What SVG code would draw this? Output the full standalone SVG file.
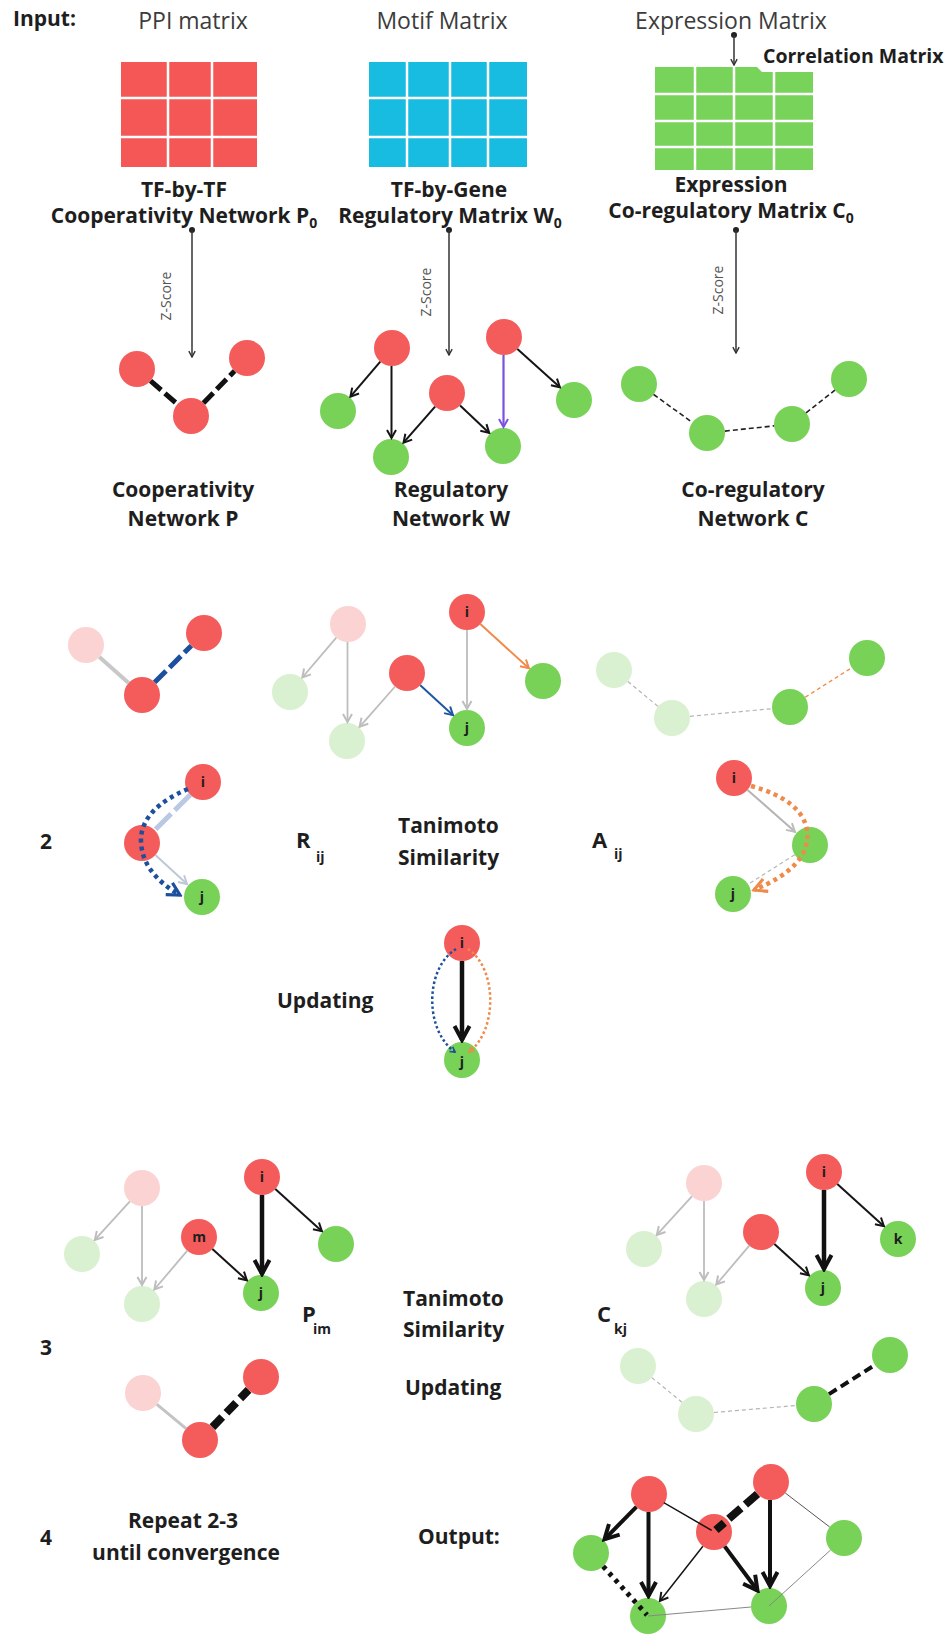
<svg xmlns="http://www.w3.org/2000/svg" width="950" height="1638" viewBox="0 0 950 1638">
<style>
text{font-family:"Open Sans","Liberation Sans",sans-serif;fill:#1e1e1e}
.h{font-size:23px;fill:#3c3c3c}
.b{font-size:21px;font-weight:700}
.bs{font-size:19.5px;font-weight:700}
.sub{font-size:14px;font-weight:700}
.z{font-size:14px;fill:#555}
.nl{font-size:14px;font-weight:700;text-anchor:middle}
.c{text-anchor:middle}
.red{fill:#f45b5b}
.grn{fill:#78d257}
.pk{fill:#fbd3d3}
.pg{fill:#d9f1d0}
.grid{stroke:#fff;stroke-width:2.5}
.k{fill:none;stroke:#151515;stroke-width:2}
.kt{fill:none;stroke:#111;stroke-width:4.5}
.zs{fill:none;stroke:#333;stroke-width:1.5}
.gy{fill:none;stroke:#bdbdbd;stroke-width:1.8}
.gyd{fill:none;stroke:#b5b5b5;stroke-width:1.2;stroke-dasharray:4 3}
.kd{fill:none;stroke:#222;stroke-width:1.6;stroke-dasharray:5 3}
</style>
<defs>
<marker id="ahK" viewBox="0 0 12 12" refX="10" refY="6" markerWidth="12" markerHeight="12" markerUnits="userSpaceOnUse" orient="auto"><path d="M2,1.5 L10,6 L2,10.5" fill="none" stroke="#151515" stroke-width="2"/></marker>
<marker id="ahG" viewBox="0 0 12 12" refX="10" refY="6" markerWidth="12" markerHeight="12" markerUnits="userSpaceOnUse" orient="auto"><path d="M2,1.5 L10,6 L2,10.5" fill="none" stroke="#bdbdbd" stroke-width="2"/></marker>
<marker id="ahL" viewBox="0 0 12 12" refX="10" refY="6" markerWidth="12" markerHeight="12" markerUnits="userSpaceOnUse" orient="auto"><path d="M2,1.5 L10,6 L2,10.5" fill="none" stroke="#bfc8d6" stroke-width="2"/></marker>
<marker id="ahB" viewBox="0 0 12 12" refX="10" refY="6" markerWidth="12" markerHeight="12" markerUnits="userSpaceOnUse" orient="auto"><path d="M2,1.5 L10,6 L2,10.5" fill="none" stroke="#1f55a5" stroke-width="2"/></marker>
<marker id="ahO" viewBox="0 0 12 12" refX="10" refY="6" markerWidth="12" markerHeight="12" markerUnits="userSpaceOnUse" orient="auto"><path d="M2,1.5 L10,6 L2,10.5" fill="none" stroke="#ef8a4a" stroke-width="2"/></marker>
<marker id="ahP" viewBox="0 0 12 12" refX="10" refY="6" markerWidth="12" markerHeight="12" markerUnits="userSpaceOnUse" orient="auto"><path d="M2,1.5 L10,6 L2,10.5" fill="none" stroke="#7b52e0" stroke-width="2"/></marker>
<marker id="ahZ" viewBox="0 0 10 10" refX="8.5" refY="5" markerWidth="9" markerHeight="9" markerUnits="userSpaceOnUse" orient="auto"><path d="M2,1.5 L8.5,5 L2,8.5" fill="none" stroke="#333" stroke-width="1.6"/></marker>
<marker id="ahKT" viewBox="0 0 20 20" refX="17" refY="10" markerWidth="20" markerHeight="20" markerUnits="userSpaceOnUse" orient="auto"><path d="M3,2.5 L17,10 L3,17.5" fill="none" stroke="#111" stroke-width="4"/></marker>
<marker id="ahBT" viewBox="0 0 20 20" refX="17" refY="10" markerWidth="18" markerHeight="18" markerUnits="userSpaceOnUse" orient="auto"><path d="M3,2.5 L17,10 L3,17.5" fill="none" stroke="#1d4f9c" stroke-width="3.5"/></marker>
<marker id="ahOT" viewBox="0 0 20 20" refX="17" refY="10" markerWidth="18" markerHeight="18" markerUnits="userSpaceOnUse" orient="auto"><path d="M3,2.5 L17,10 L3,17.5" fill="none" stroke="#ef8a4a" stroke-width="3.5"/></marker>
<marker id="ahBs" viewBox="0 0 10 10" refX="8" refY="5" markerWidth="8" markerHeight="8" markerUnits="userSpaceOnUse" orient="auto"><path d="M2,1.5 L8,5 L2,8.5" fill="none" stroke="#1d4f9c" stroke-width="2"/></marker>
<marker id="ahOs" viewBox="0 0 10 10" refX="8" refY="5" markerWidth="8" markerHeight="8" markerUnits="userSpaceOnUse" orient="auto"><path d="M2,1.5 L8,5 L2,8.5" fill="none" stroke="#ef8a4a" stroke-width="2"/></marker>
</defs>
<rect width="950" height="1638" fill="#fff"/>

<!-- headings -->
<g id="headings">
<text class="b" x="13" y="26">Input:</text>
<text class="h c" x="193" y="29">PPI matrix</text>
<text class="h c" x="442" y="29">Motif Matrix</text>
<text class="h c" x="731" y="29">Expression Matrix</text>
<text class="bs" x="763" y="63">Correlation Matrix</text>
</g>

<!-- input matrices -->
<g id="ppi-matrix">
<rect x="121" y="62" width="136" height="105" fill="#f55757"/>
<path class="grid" d="M168,62V167M212,62V167M121,98H257M121,137H257"/>
</g>
<g id="motif-matrix">
<rect x="369" y="62" width="158" height="105" fill="#18bce0"/>
<path class="grid" d="M407,62V167M450,62V167M488,62V167M369,98H527M369,137H527"/>
</g>
<g id="expression-matrix">
<path d="M655,67H757L762,72H813V170H655Z" fill="#78d35a"/>
<path class="grid" d="M695,67V170M734,67V170M774,70V170M655,94H813M655,121H813M655,147H813"/>
</g>

<g id="matrix-labels">
<text class="b c" x="184" y="197">TF-by-TF</text>
<text class="b c" x="184" y="223">Cooperativity Network P<tspan class="sub" dy="5">0</tspan></text>
<text class="b c" x="449" y="197">TF-by-Gene</text>
<text class="b c" x="450" y="223">Regulatory Matrix W<tspan class="sub" dy="5">0</tspan></text>
<text class="b c" x="731" y="192">Expression</text>
<text class="b c" x="731" y="218">Co-regulatory Matrix C<tspan class="sub" dy="5">0</tspan></text>
</g>

<g id="zscore-labels">
<text class="z c" transform="translate(171,296) rotate(-90)">Z-Score</text>
<text class="z c" transform="translate(431,292) rotate(-90)">Z-Score</text>
<text class="z c" transform="translate(723,290) rotate(-90)">Z-Score</text>
</g>

<!-- ===== step 1 networks ===== -->
<g id="p1-a"><circle class="red" cx="137" cy="369" r="18"/></g>
<g id="p1-b"><circle class="red" cx="191" cy="416" r="18"/></g>
<g id="p1-c"><circle class="red" cx="247" cy="358" r="18"/></g>

<g id="w1-tf1"><circle class="red" cx="392" cy="348" r="18"/></g>
<g id="w1-g1"><circle class="grn" cx="338" cy="411" r="18"/></g>
<g id="w1-g2"><circle class="grn" cx="391" cy="457" r="18"/></g>
<g id="w1-tf2"><circle class="red" cx="447" cy="393" r="18"/></g>
<g id="w1-tf3"><circle class="red" cx="504" cy="337" r="18"/></g>
<g id="w1-g3"><circle class="grn" cx="574" cy="400" r="18"/></g>
<g id="w1-g4"><circle class="grn" cx="503" cy="446" r="18"/></g>

<g id="c1-a"><circle class="grn" cx="639" cy="384" r="18"/></g>
<g id="c1-b"><circle class="grn" cx="707" cy="433" r="18"/></g>
<g id="c1-c"><circle class="grn" cx="792" cy="424" r="18"/></g>
<g id="c1-d"><circle class="grn" cx="849" cy="379" r="18"/></g>

<g id="network-labels">
<text class="b c" x="183" y="497">Cooperativity</text>
<text class="b c" x="183" y="526">Network P</text>
<text class="b c" x="451" y="497">Regulatory</text>
<text class="b c" x="451" y="526">Network W</text>
<text class="b c" x="753" y="497">Co-regulatory</text>
<text class="b c" x="753" y="526">Network C</text>
</g>

<!-- ===== step 2 ===== -->
<g id="p2-a"><circle class="pk" cx="86" cy="645" r="18"/></g>
<g id="p2-b"><circle class="red" cx="142" cy="695" r="18"/></g>
<g id="p2-c"><circle class="red" cx="204" cy="633" r="18"/></g>

<g id="w2-tf1"><circle class="pk" cx="348" cy="624" r="18"/></g>
<g id="w2-g1"><circle class="pg" cx="290" cy="692" r="18"/></g>
<g id="w2-g2"><circle class="pg" cx="347" cy="741" r="18"/></g>
<g id="w2-tf2"><circle class="red" cx="407" cy="673" r="18"/></g>
<g id="w2-i"><circle class="red" cx="467" cy="612" r="18"/><text class="nl" x="467" y="617">i</text></g>
<g id="w2-j"><circle class="grn" cx="467" cy="728" r="18"/><text class="nl" x="467" y="733">j</text></g>
<g id="w2-g3"><circle class="grn" cx="543" cy="681" r="18"/></g>

<g id="c2-a"><circle class="pg" cx="614" cy="670" r="18"/></g>
<g id="c2-b"><circle class="pg" cx="672" cy="718" r="18"/></g>
<g id="c2-c"><circle class="grn" cx="790" cy="707" r="18"/></g>
<g id="c2-d"><circle class="grn" cx="867" cy="658" r="18"/></g>

<g id="r-i"><circle class="red" cx="203" cy="782" r="18"/><text class="nl" x="203" y="787">i</text></g>
<g id="r-m"><circle class="red" cx="142" cy="843" r="18"/></g>
<g id="r-j"><circle class="grn" cx="202" cy="897" r="18"/><text class="nl" x="202" y="902">j</text></g>

<g id="a-i"><circle class="red" cx="734" cy="778" r="18"/><text class="nl" x="734" y="783">i</text></g>
<g id="a-k"><circle class="grn" cx="810" cy="845" r="18"/></g>
<g id="a-j"><circle class="grn" cx="733" cy="894" r="18"/><text class="nl" x="733" y="899">j</text></g>

<g id="u-i"><circle class="red" cx="462" cy="943" r="18"/><text class="nl" x="462" y="948">i</text></g>
<g id="u-j"><circle class="grn" cx="462" cy="1060" r="18"/><text class="nl" x="462" y="1067">j</text></g>

<g id="step2-labels">
<text class="b" x="40" y="849">2</text>
<text class="b" x="296" y="848" style="font-size:22px">R</text>
<text class="sub" x="316" y="862">ij</text>
<text class="b" x="398" y="833">Tanimoto</text>
<text class="b" x="398" y="865">Similarity</text>
<text class="b" x="592" y="848" style="font-size:22px">A</text>
<text class="sub" x="614" y="859">ij</text>
<text class="b" x="277" y="1008">Updating</text>
</g>

<!-- ===== step 3 ===== -->
<g id="w3l-tf1"><circle class="pk" cx="142" cy="1188" r="18"/></g>
<g id="w3l-g1"><circle class="pg" cx="82" cy="1254" r="18"/></g>
<g id="w3l-g2"><circle class="pg" cx="142" cy="1304" r="18"/></g>
<g id="w3l-m"><circle class="red" cx="199" cy="1237" r="18"/><text class="nl" x="199" y="1242">m</text></g>
<g id="w3l-i"><circle class="red" cx="262" cy="1177" r="18"/><text class="nl" x="262" y="1182">i</text></g>
<g id="w3l-j"><circle class="grn" cx="261" cy="1293" r="18"/><text class="nl" x="261" y="1298">j</text></g>
<g id="w3l-g3"><circle class="grn" cx="336" cy="1244" r="18"/></g>

<g id="w3r-tf1"><circle class="pk" cx="704" cy="1183" r="18"/></g>
<g id="w3r-g1"><circle class="pg" cx="644" cy="1249" r="18"/></g>
<g id="w3r-g2"><circle class="pg" cx="704" cy="1299" r="18"/></g>
<g id="w3r-tf2"><circle class="red" cx="761" cy="1232" r="18"/></g>
<g id="w3r-i"><circle class="red" cx="824" cy="1172" r="18"/><text class="nl" x="824" y="1177">i</text></g>
<g id="w3r-j"><circle class="grn" cx="823" cy="1288" r="18"/><text class="nl" x="823" y="1293">j</text></g>
<g id="w3r-k"><circle class="grn" cx="898" cy="1239" r="18"/><text class="nl" x="898" y="1244">k</text></g>

<g id="p3-a"><circle class="pk" cx="143" cy="1393" r="18"/></g>
<g id="p3-b"><circle class="red" cx="200" cy="1440" r="18"/></g>
<g id="p3-c"><circle class="red" cx="261" cy="1377" r="18"/></g>

<g id="c3-a"><circle class="pg" cx="638" cy="1366" r="18"/></g>
<g id="c3-b"><circle class="pg" cx="696" cy="1414" r="18"/></g>
<g id="c3-c"><circle class="grn" cx="814" cy="1404" r="18"/></g>
<g id="c3-d"><circle class="grn" cx="890" cy="1355" r="18"/></g>

<g id="step3-labels">
<text class="b" x="302" y="1322" style="font-size:22px">P</text>
<text class="sub" x="313" y="1334">im</text>
<text class="b" x="403" y="1306">Tanimoto</text>
<text class="b" x="403" y="1337">Similarity</text>
<text class="b" x="597" y="1322" style="font-size:22px">C</text>
<text class="sub" x="614" y="1334">kj</text>
<text class="b" x="40" y="1355">3</text>
<text class="b" x="405" y="1395">Updating</text>
</g>

<!-- ===== step 4 / output ===== -->
<g id="o-tf1"><circle class="red" cx="649" cy="1494" r="18"/></g>
<g id="o-tf2"><circle class="red" cx="771" cy="1482" r="18"/></g>
<g id="o-tf3"><circle class="red" cx="714" cy="1532" r="18"/></g>
<g id="o-g1"><circle class="grn" cx="591" cy="1553" r="18"/></g>
<g id="o-g2"><circle class="grn" cx="648" cy="1616" r="18"/></g>
<g id="o-g3"><circle class="grn" cx="769" cy="1606" r="18"/></g>
<g id="o-g4"><circle class="grn" cx="844" cy="1538" r="18"/></g>

<g id="step4-labels">
<text class="b" x="40" y="1545">4</text>
<text class="b c" x="183" y="1528">Repeat  2-3</text>
<text class="b c" x="186" y="1560">until convergence</text>
<text class="b" x="418" y="1544">Output:</text>
</g>

<!-- ===== connectors ===== -->
<g id="connectors">
<!-- step 1 inputs -->
<circle cx="734" cy="35" r="3" fill="#222"/>
<path class="zs" d="M734,35V65" marker-end="url(#ahZ)"/>
<circle cx="192" cy="230" r="3" fill="#222"/>
<path class="zs" d="M192,230V357" marker-end="url(#ahZ)"/>
<circle cx="449" cy="230" r="3" fill="#222"/>
<path class="zs" d="M449,230V355" marker-end="url(#ahZ)"/>
<circle cx="736" cy="230" r="3" fill="#222"/>
<path class="zs" d="M736,230V353" marker-end="url(#ahZ)"/>

<!-- cooperativity network P -->
<path d="M150.6,380.8L177.4,404.2M203.5,403L234.5,371" fill="none" stroke="#111" stroke-width="5" stroke-dasharray="14 5"/>
<!-- regulatory network W -->
<path class="k" d="M380.3,361.7L350.4,396.6" marker-end="url(#ahK)"/>
<path class="k" d="M391.5,366V438" marker-end="url(#ahK)"/>
<path class="k" d="M435.1,406.6L403.5,442.7" marker-end="url(#ahK)"/>
<path class="k" d="M460.1,405.4L489.2,432.9" marker-end="url(#ahK)"/>
<path d="M503.5,355V427" fill="none" stroke="#7b52e0" stroke-width="2.2" marker-end="url(#ahP)"/>
<path class="k" d="M517.4,349L559.9,387.3" marker-end="url(#ahK)"/>
<!-- co-regulatory network C -->
<path class="kd" d="M653.6,394.5L692.4,422.5M724.9,431.1L774.1,425.9M806.1,412.8L834.9,390.2"/>

<!-- step 2: P -->
<path d="M99.4,657L128.6,683" fill="none" stroke="#c8c8c8" stroke-width="4"/>
<path d="M154.7,682.3L191.3,645.7" fill="none" stroke="#1d4f9c" stroke-width="5" stroke-dasharray="16 5"/>
<!-- step 2: W -->
<path class="gy" d="M336.3,637.7L302.3,677.5" marker-end="url(#ahG)"/>
<path class="gy" d="M347.5,642V722" marker-end="url(#ahG)"/>
<path class="gy" d="M395.1,686.5L359.6,726.8" marker-end="url(#ahG)"/>
<path d="M420.3,685.2L453,715.2" fill="none" stroke="#1f55a5" stroke-width="2" marker-end="url(#ahB)"/>
<path class="gy" d="M467,630V709" marker-end="url(#ahG)"/>
<path d="M480.3,624.1L528.9,668.2" fill="none" stroke="#ef8a4a" stroke-width="2" marker-end="url(#ahO)"/>
<!-- step 2: C -->
<path class="gyd" d="M627.9,681.5L658.1,706.5M690,716.3L772,708.7"/>
<path d="M805.2,697.3L851.8,667.7" fill="none" stroke="#ef8a4a" stroke-width="1.3" stroke-dasharray="4 3"/>
<!-- step 2: R_ij path -->
<path d="M190.3,794.7L154.7,830.3" fill="none" stroke="#b9c9e3" stroke-width="5" stroke-dasharray="22 5"/>
<path d="M155.4,855L187,884" fill="none" stroke="#bfc8d6" stroke-width="2" marker-end="url(#ahL)"/>
<path d="M188,789Q143,808 141,838Q140,872 180,895" fill="none" stroke="#1d4f9c" stroke-width="4.5" stroke-dasharray="4 4" marker-end="url(#ahBT)"/>
<!-- step 2: A_ij path -->
<path d="M747.5,789.9L795,831.8" fill="none" stroke="#b5b5b5" stroke-width="2" marker-end="url(#ahG)"/>
<path d="M794.8,854.7L748.2,884.3" fill="none" stroke="#b5b5b5" stroke-width="1.2" stroke-dasharray="4 3"/>
<path d="M751,786Q802,800 807,830Q812,866 754,890" fill="none" stroke="#ef8a4a" stroke-width="4.5" stroke-dasharray="4 4" marker-end="url(#ahOT)"/>
<!-- step 2: updating -->
<path class="kt" d="M462,961V1040" marker-end="url(#ahKT)"/>
<path d="M456,949C425,968 424,1030 455,1052" fill="none" stroke="#1d4f9c" stroke-width="2.5" stroke-dasharray="2.5 2.5" marker-end="url(#ahBs)"/>
<path d="M468,949C497,968 498,1030 469,1052" fill="none" stroke="#ef8a4a" stroke-width="2.5" stroke-dasharray="2.5 2.5" marker-end="url(#ahOs)"/>

<!-- step 3: left W -->
<path class="gy" d="M129.9,1201.3L94.8,1239.9" marker-end="url(#ahG)"/>
<path class="gy" d="M142,1206V1285" marker-end="url(#ahG)"/>
<path class="gy" d="M187.3,1250.7L154.3,1289.5" marker-end="url(#ahG)"/>
<path class="k" d="M212.4,1249.1L246.9,1280.3" marker-end="url(#ahK)"/>
<path class="kt" d="M262,1195V1274" marker-end="url(#ahKT)"/>
<path class="k" d="M275.3,1189.1L321.9,1231.2" marker-end="url(#ahK)"/>
<!-- step 3: right W -->
<path class="gy" d="M691.9,1196.3L656.8,1234.9" marker-end="url(#ahG)"/>
<path class="gy" d="M704,1201V1280" marker-end="url(#ahG)"/>
<path class="gy" d="M749.3,1245.7L716.3,1284.5" marker-end="url(#ahG)"/>
<path class="k" d="M774.4,1244.1L808.9,1275.3" marker-end="url(#ahK)"/>
<path class="kt" d="M824,1190V1269" marker-end="url(#ahKT)"/>
<path class="k" d="M837.3,1184.1L883.9,1226.2" marker-end="url(#ahK)"/>
<!-- step 3: updated P -->
<path d="M156.9,1404.4L186.1,1428.6" fill="none" stroke="#c4c4c4" stroke-width="3"/>
<path d="M212.5,1427.1L248.5,1389.9" fill="none" stroke="#111" stroke-width="8" stroke-dasharray="14 6"/>
<!-- step 3: updated C -->
<path class="gyd" d="M651.8,1377.6L682.2,1402.4M714,1412.5L796,1405.5"/>
<path d="M829,1394.1L875,1364.9" fill="none" stroke="#111" stroke-width="4" stroke-dasharray="9 5"/>

<!-- output network -->
<path d="M636.4,1506.8L604.5,1539.3" fill="none" stroke="#111" stroke-width="4" marker-end="url(#ahKT)"/>
<path d="M648.5,1512V1596" fill="none" stroke="#111" stroke-width="4" marker-end="url(#ahKT)"/>
<path d="M664.5,1503.1L711,1530" fill="none" stroke="#111" stroke-width="1.5" stroke-linecap="square"/>
<path d="M757.5,1493.9L716,1530" fill="none" stroke="#111" stroke-width="8" stroke-dasharray="16 6"/>
<path d="M770,1500V1586" fill="none" stroke="#111" stroke-width="4" marker-end="url(#ahKT)"/>
<path d="M785.3,1493L829.7,1527" fill="none" stroke="#555" stroke-width="1"/>
<path class="k" d="M702.9,1546.2L659.9,1601" style="stroke-width:1.5" marker-end="url(#ahK)"/>
<path d="M724.7,1546.4L757.5,1590.5" fill="none" stroke="#111" stroke-width="4" marker-end="url(#ahKT)"/>
<path d="M603.1,1566.3L647,1615" fill="none" stroke="#111" stroke-width="5" stroke-dasharray="4 5"/>
<path d="M648,1616L751,1607" fill="none" stroke="#888" stroke-width="1"/>
<path d="M769,1606L830.6,1550" fill="none" stroke="#888" stroke-width="1"/>
</g>
</svg>
